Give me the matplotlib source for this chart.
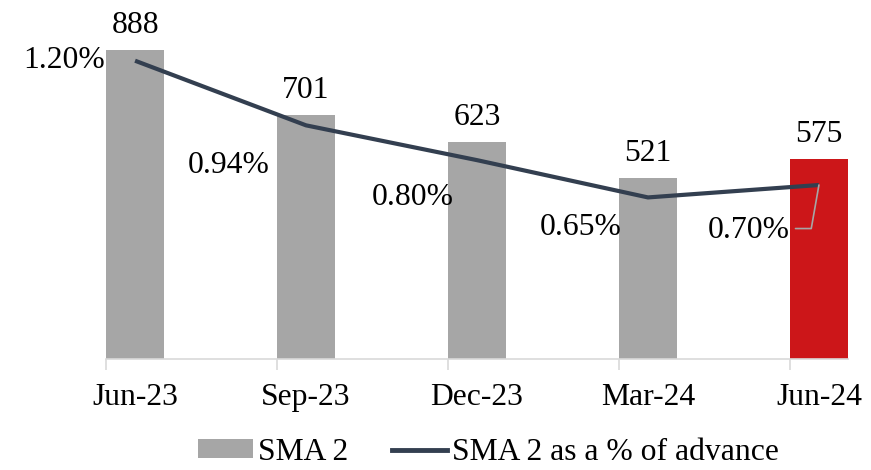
#%%
# imports
import numpy as np
import matplotlib
matplotlib.use('Agg')
import matplotlib.pyplot as plt

#%%
# data
quarters = ['Jun-23', 'Sep-23', 'Dec-23', 'Mar-24', 'Jun-24']
sma2 = [888, 701, 623, 521, 575]
sma2_pct = [1.20, 0.94, 0.80, 0.65, 0.70]
pct_labels = ['1.20%', '0.94%', '0.80%', '0.65%', '0.70%']

#%%
# style
plt.rcParams['font.family'] = ['Liberation Serif', 'DejaVu Serif']
fs = 22.8
gray = '#A6A6A6'
red = '#CC1619'
navy = '#333F50'
bar_w = 0.34

fig = plt.figure(figsize=(8.71, 4.70), dpi=100)
ax = fig.add_axes([106/871, 1 - 359/470, (848-106)/871, 348/470])
x = np.arange(len(quarters))
colors = [gray]*(len(x)-1) + [red]
bars = ax.bar(x, sma2, width=bar_w, color=colors, zorder=2)

ax.set_xlim(-bar_w/2, x[-1] + bar_w/2)
ax.set_ylim(0, 1000)
for s in ['top', 'right', 'left']:
    ax.spines[s].set_visible(False)
ax.spines['bottom'].set_color('#D9D9D9')
ax.spines['bottom'].set_linewidth(1.2)
ax.set_yticks([])
ax.set_xticks(x)
ax.set_xticklabels(quarters, fontsize=fs)
ax.tick_params(axis='x', which='major', length=0, pad=17)
ax.set_xticks(x - bar_w/2, minor=True)
ax.tick_params(axis='x', which='minor', length=8, width=1.2, color='#D9D9D9')

# value labels on bars
for xi, v in zip(x, sma2):
    ax.annotate(str(v), (xi, v), xytext=(0, 10), textcoords='offset pixels',
                ha='center', va='bottom', fontsize=fs)

#%%
# secondary axis with the % line
ax2 = ax.twinx()
ax2.set_ylim(0, 1.4)
ax2.axis('off')
ax2.plot(x, sma2_pct, color=navy, lw=3, solid_capstyle='butt', zorder=3)

offsets = [(-30, 0), (-77, -40), (-64, -37), (-67, -30), (-70, -45)]
for i, (xi, p) in enumerate(zip(x, sma2_pct)):
    dx, dy = offsets[i]
    if i == 0:
        ax2.annotate(pct_labels[i], (xi, p), xytext=(dx, dy), textcoords='offset pixels',
                     ha='right', va='center', fontsize=fs)
    elif i == len(x) - 1:
        ax2.annotate(pct_labels[i], (xi, p), xytext=(dx, dy), textcoords='offset pixels',
                     ha='center', va='center', fontsize=fs,
                     arrowprops=dict(arrowstyle='-', color=gray, lw=1.2,
                                     shrinkA=2, shrinkB=0, relpos=(1, 0.55),
                                     connectionstyle='angle,angleA=0,angleB=80,rad=0'))
    else:
        ax2.annotate(pct_labels[i], (xi, p), xytext=(dx, dy), textcoords='offset pixels',
                     ha='center', va='center', fontsize=fs)

#%%
# legend
line_h, = ax2.plot([], [], color=navy, lw=3.5)
fig.legend([bars[0], line_h], ['SMA 2', 'SMA 2 as a % of advance'],
           loc='center', bbox_to_anchor=(0.561, 0.037), ncol=2, frameon=False,
           fontsize=fs, handlelength=1.72, handleheight=0.54, handletextpad=0.16,
           columnspacing=1.4, borderaxespad=0, borderpad=0)

fig.savefig('out.png', dpi=100)
